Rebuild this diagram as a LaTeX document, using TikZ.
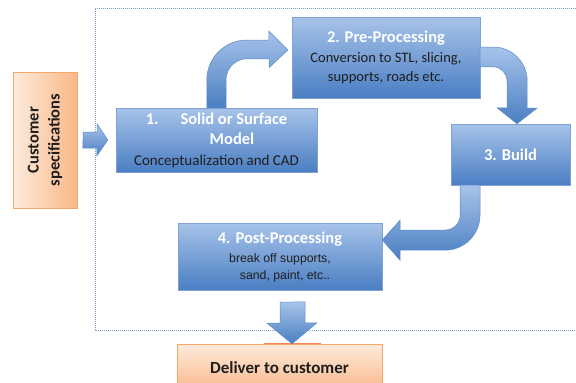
\documentclass[tikz,border=0pt]{standalone}
\usepackage{fontspec}
\setmainfont{Carlito}
\newfontfamily\calfont{Carlito}
\newfontfamily\arialfont{Liberation Sans}
\usepackage{graphicx}
\usetikzlibrary{calc,shadows}

\definecolor{boxtop}{HTML}{A7C3E9}
\definecolor{boxbot}{HTML}{4A7EC3}
\definecolor{boxline}{HTML}{7FA2D3}
\definecolor{arrowline}{HTML}{5E8CC9}
\definecolor{custtop}{HTML}{FDEBDD}
\definecolor{custbot}{HTML}{F9B787}
\definecolor{custline}{HTML}{F6A667}
\definecolor{framecol}{HTML}{7E9DCB}
\definecolor{txtdark}{HTML}{1E1E1E}

\newcommand{\headtxt}[1]{{\color{white}\calfont\bfseries\fontsize{16.5}{21}\selectfont #1}}

\tikzset{
  stepbox/.style={draw=boxline, top color=boxtop, bottom color=boxbot, align=center,
    text=txtdark, inner sep=2pt, font=\fontsize{15}{20.5}\selectfont,
    drop shadow={shadow xshift=1.2pt, shadow yshift=-1.2pt, opacity=0.3}},
  custbox/.style={draw=custline, left color=custtop, right color=custbot, align=center,
    text=txtdark, inner sep=2pt, font=\bfseries\fontsize{16.5}{21}\selectfont,
    drop shadow={shadow xshift=1.2pt, shadow yshift=-1.2pt, opacity=0.3}},
  blockarrow/.style={draw=arrowline, line width=0.5pt, top color=boxtop, bottom color=boxbot},
  frame/.style={draw=framecol, line width=1pt, dash pattern=on 1pt off 1pt}
}

\begin{document}
\begin{tikzpicture}[x=1pt, y=1pt]

    \useasboundingbox (0,0) rectangle (576,-383);

    % dotted frame round the process
    \draw[frame] (576,-8) -- (95,-8) -- (95,-330) -- (576,-330);

    \node (cust) [custbox, minimum width=64, minimum height=136] at (45,-140)
        {\rotatebox{90}{\begin{tabular}{@{}c@{}}Customer\\specifications\end{tabular}}};

    \node (b1) [stepbox, minimum width=201, minimum height=64] at (216.5,-140)
        {\headtxt{1.\hspace{22pt}Solid or Surface}\\ \headtxt{\hspace*{31pt}Model}\\ Conceptualization and CAD};
    \node (b2) [stepbox, minimum width=188, minimum height=81, font=\fontsize{14.5}{19.5}\selectfont] at (386,-57.5)
        {\headtxt{2. Pre-Processing}\\ Conversion to STL, slicing,\\ supports, roads etc.};
    \node (b3) [stepbox, minimum width=119, minimum height=61] at (510.5,-154.5)
        {\headtxt{3. Build}};
    \node (b4) [stepbox, minimum width=204, minimum height=67, font=\arialfont\fontsize{12.3}{16.5}\selectfont] at (280,-256.5)
        {\headtxt{4. Post-Processing}\\[3pt] break off supports,\\ \hspace*{10pt}sand, paint, etc..};
    \node (deliver) [custbox, top color=custtop, bottom color=custbot, minimum width=205, minimum height=48, font=\bfseries\fontsize{17}{21}\selectfont] at (279.5,-368)
        {Deliver to customer};
    \draw[custline!80!red, line width=1.3pt] ($(deliver.north)+(-15.5,0)$) -- ++(57,0);

    % block arrows
    \shade[blockarrow] ($(cust.east)+(6,8)$) -- ++(14,0) -- ++(0,8) -- ($(b1.west)+(-8,0)$)
        -- ++(-11,-16) -- ++(0,8) -- ++(-14,0) -- cycle;

    \shade[blockarrow] ($(b1.north)+(9.5,0)$) -- ++(0,28) arc[start angle=180, end angle=90, radius=21]
        -- ++(22,0) -- ++(0,-9) -- ($(b2.west)+(-4,7.5)$) -- ++(-19,19) -- ++(0,-9) -- ++(-22,0)
        arc[start angle=90, end angle=180, radius=40] -- ++(0,-28) -- cycle;

    \shade[blockarrow] ($(b2.east)+(0,10.5)$) -- ++(13,0) arc[start angle=90, end angle=0, radius=34]
        -- ++(0,-27) -- ++(10,0) -- ($(b3.north)+(6.5,0)$) -- ++(-20,16) -- ++(10,0) -- ++(0,27)
        arc[start angle=0, end angle=90, radius=14] -- ++(-13,0) -- cycle;

    \shade[blockarrow] ($(b3.south)+(-30.5,0)$) -- ++(0,-30) arc[start angle=0, end angle=-90, radius=35]
        -- ++(-45,0) -- ++(0,-10) -- ($(b4.east)+(0,16.5)$) -- ++(18,20) -- ++(0,-10) -- ++(45,0)
        arc[start angle=-90, end angle=0, radius=15] -- ++(0,30) -- cycle;

    \shade[blockarrow] ($(b4.south)+(0,-12)$) -- ++(0,-21) -- ++(-13,0) -- ($(deliver.north)+(12.5,0)$)
        -- ++(25,21) -- ++(-12,0) -- ++(0,21) -- cycle;

\end{tikzpicture}
\end{document}
